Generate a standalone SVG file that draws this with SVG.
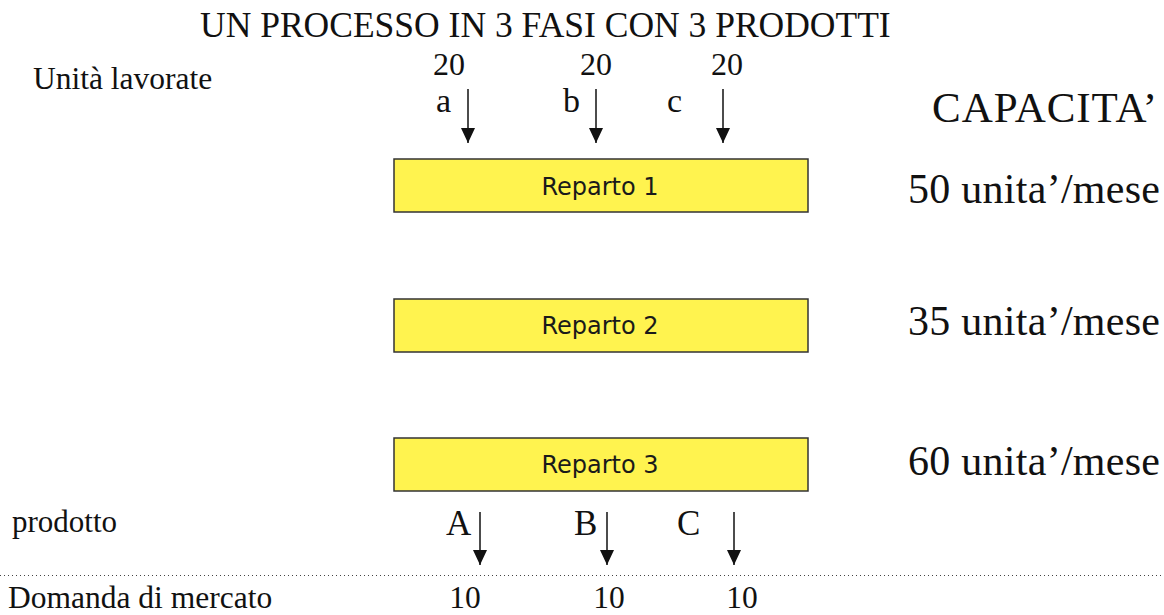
<svg xmlns="http://www.w3.org/2000/svg" width="1164" height="615" viewBox="0 0 1164 615">
  <style>
    .serif { font-family: "Liberation Serif", "Times New Roman", serif; fill: #111; }
    .box { fill: #FFF34F; stroke: #333; stroke-width: 1.5; }
    .boxlabel { font-family: "DejaVu Sans", Verdana, sans-serif; font-size: 24px; fill: #1a1a1a; text-anchor: middle; }
    .flow { stroke: #111; stroke-width: 1.5; fill: none; marker-end: url(#head); }
  </style>
  <defs>
    <!-- filled triangular arrowhead, tip at the end of the line -->
    <marker id="head" markerUnits="userSpaceOnUse" markerWidth="15" markerHeight="14" refX="15" refY="7" orient="auto" viewBox="0 0 15 14">
      <path d="M0,0 L15,7 L0,14 Z" fill="#111"/>
    </marker>
  </defs>

  <!-- headings and side labels -->
  <text class="serif" x="200" y="37" font-size="35.5">UN PROCESSO IN 3 FASI CON 3 PRODOTTI</text>
  <text class="serif" x="33" y="89" font-size="31.5">Unità lavorate</text>
  <text class="serif" x="932" y="122" font-size="43" textLength="225" lengthAdjust="spacing">CAPACITA’</text>
  <text class="serif" x="12" y="532" font-size="31">prodotto</text>
  <text class="serif" x="8" y="608" font-size="31.5">Domanda di mercato</text>

  <!-- input quantities -->
  <g class="serif" font-size="32" text-anchor="middle">
    <text x="449" y="75">20</text>
    <text x="596" y="75">20</text>
    <text x="727" y="75">20</text>
  </g>
  <g class="serif" font-size="34">
    <text x="436" y="112">a</text>
    <text x="563" y="112">b</text>
    <text x="667" y="112">c</text>
  </g>

  <!-- departments -->
  <g id="reparto1">
    <rect class="box" x="394" y="159" width="414" height="53"/>
    <text class="boxlabel" x="600" y="195">Reparto 1</text>
  </g>
  <g id="reparto2">
    <rect class="box" x="394" y="299" width="414" height="53"/>
    <text class="boxlabel" x="600" y="334">Reparto 2</text>
  </g>
  <g id="reparto3">
    <rect class="box" x="394" y="438" width="414" height="53"/>
    <text class="boxlabel" x="600" y="473">Reparto 3</text>
  </g>

  <!-- capacities -->
  <g class="serif" font-size="42">
    <text x="908" y="203" textLength="252" lengthAdjust="spacing">50 unita’/mese</text>
    <text x="908" y="335" textLength="252" lengthAdjust="spacing">35 unita’/mese</text>
    <text x="908" y="475" textLength="252" lengthAdjust="spacing">60 unita’/mese</text>
  </g>

  <!-- products -->
  <g class="serif" font-size="35">
    <text x="446" y="535">A</text>
    <text x="574" y="535">B</text>
    <text x="677" y="535">C</text>
  </g>

  <!-- demand -->
  <g class="serif" font-size="31.5" text-anchor="middle">
    <text x="465" y="608">10</text>
    <text x="609" y="608">10</text>
    <text x="742" y="608">10</text>
  </g>

  <g id="connectors">
    <line class="flow" x1="468" y1="89" x2="468" y2="143"/>
    <line class="flow" x1="596" y1="89" x2="596" y2="143"/>
    <line class="flow" x1="723" y1="89" x2="723" y2="143"/>
    <line class="flow" x1="480" y1="512" x2="480" y2="565"/>
    <line class="flow" x1="607" y1="512" x2="607" y2="565"/>
    <line class="flow" x1="734" y1="512" x2="734" y2="565"/>
    <line x1="0" y1="575.5" x2="1164" y2="575.5" stroke="#444" stroke-width="1" stroke-dasharray="1 3"/>
  </g>
</svg>
